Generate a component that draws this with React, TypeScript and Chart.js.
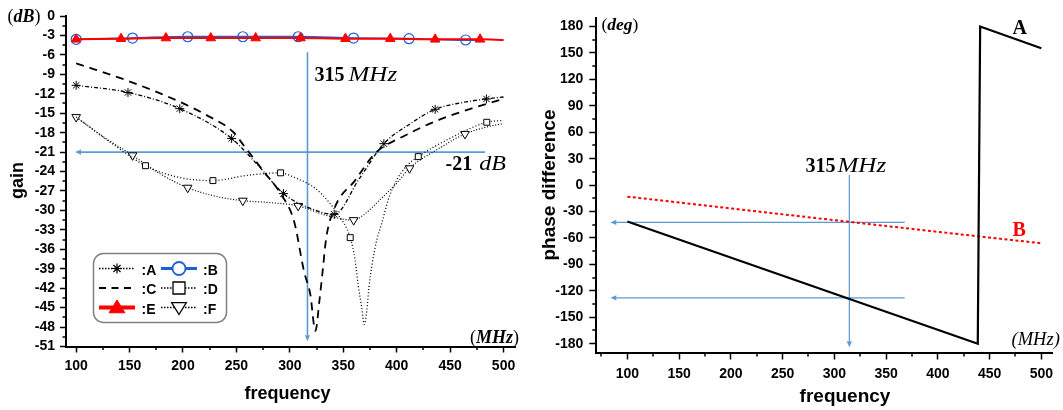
import React, { useEffect, useRef } from 'react';
import { Chart, registerables } from 'chart.js';

Chart.register(...registerables);

// ---------------- Left panel: gain (dB) vs frequency (MHz) ----------------
const GAIN_X_TICKS = [100, 150, 200, 250, 300, 350, 400, 450, 500];
const GAIN_X_MINOR = [125, 175, 225, 275, 325, 375, 425, 475];
const GAIN_Y_TICKS = [0, -3, -6, -9, -12, -15, -18, -21, -24, -27, -30, -33, -36, -39, -42, -45, -48, -51];
const GAIN_Y_MINOR = [-1.5, -4.5, -7.5, -10.5, -13.5, -16.5, -19.5, -22.5, -25.5, -28.5, -31.5, -34.5, -37.5, -40.5, -43.5, -46.5, -49.5];

const A_FREQ = [100, 148.5, 197, 245.5, 270, 294, 318, 341.5, 365, 388, 412, 436, 460, 484, 500];
const A_GAIN = [-10.7, -11.8, -14.3, -18.9, -23.0, -27.4, -29.6, -30.6, -25.1, -19.7, -16.7, -14.4, -13.4, -12.8, -12.5];
const A_MARKS = [100, 148.5, 197, 245.5, 294, 341.5, 388, 436, 484];

const B_FREQ = [100, 152.8, 204.4, 256, 307.8, 359.6, 411.5, 464.6, 480];
const B_GAIN = [-3.6, -3.4, -3.2, -3.2, -3.2, -3.4, -3.5, -3.7, -3.7];
const B_MARKS = [100, 152.8, 204.4, 256, 307.8, 359.6, 411.5, 464.6];

const C_FREQ = [100, 148.4, 196.4, 222, 247, 256.5, 275.5, 291.3, 304, 313.4, 319.1, 323.9, 327.7, 330.8, 334, 341.9, 360.9, 379.8, 408.3, 440, 471.5, 500];
const C_GAIN = [-7.3, -10.0, -13.2, -15.3, -17.9, -19.9, -24.0, -27.4, -31.7, -39.5, -42.9, -48.6, -43.9, -39.2, -34.3, -29.6, -25.4, -21.2, -18.4, -16.0, -14.2, -12.8];

const D_FREQ = [100, 133, 164.9, 196, 228, 260, 291.3, 304, 323, 337, 345, 356.5, 361, 364, 367.2, 369.7, 372, 374.1, 376.7, 381.3, 386, 392, 400, 409, 420.2, 452, 484.3, 500];
const D_GAIN = [-15.6, -19.6, -23.1, -24.9, -25.4, -24.6, -24.2, -24.9, -26.5, -28.8, -30.6, -34.2, -37.6, -41.6, -44.9, -47.6, -45.5, -41.8, -38.6, -34.6, -32.0, -28.4, -25.3, -23.2, -21.7, -18.7, -16.4, -16.1];
const D_MARKS = [164.9, 228, 291.3, 356.5, 420.2, 484.3];

const E_FREQ = [100, 142, 184, 226, 268, 310, 352, 394, 436, 478, 500];
const E_GAIN = [-3.6, -3.5, -3.4, -3.4, -3.4, -3.4, -3.5, -3.5, -3.6, -3.6, -3.7];
const E_MARKS = [100, 142, 184, 226, 268, 310, 352, 394, 436, 478];

const F_FREQ = [100, 126, 152.8, 178, 204.4, 230, 256, 282, 307.8, 335, 359.7, 369, 384, 400, 412, 438, 463.9, 485, 500];
const F_GAIN = [-15.6, -18.7, -21.5, -24.3, -26.5, -27.8, -28.5, -28.8, -29.3, -30.8, -31.5, -30.7, -28.4, -25.8, -23.5, -20.6, -18.2, -17.1, -16.6];
const F_MARKS = [100, 152.8, 204.4, 256, 307.8, 359.7, 412, 463.9];

const GAIN_MARK_FREQ = 316.5;
const GAIN_MARK_TOP = -5.6;
const GAIN_MARK_BOTTOM = -50.2;
const GAIN_LEVEL = -21;
const GAIN_LEVEL_FROM = 482.6;
const GAIN_LEVEL_TO = 99;

// ---------------- Right panel: phase difference (deg) vs frequency ----------------
const PHASE_X_TICKS = [100, 150, 200, 250, 300, 350, 400, 450, 500];
const PHASE_X_MINOR = [75, 125, 175, 225, 275, 325, 375, 425, 475];
const PHASE_Y_TICKS = [180, 150, 120, 90, 60, 30, 0, -30, -60, -90, -120, -150, -180];
const PHASE_Y_MINOR = [165, 135, 105, 75, 45, 15, -15, -45, -75, -105, -135, -165];

const PA_FREQ = [100, 438.6, 440.9, 500];
const PA_PHASE = [-41.3, -180, 180, 155.3];
const PB_FREQ = [100, 315, 440, 500];
const PB_PHASE = [-13.1, -41.8, -58.3, -66];

const PHASE_MARK_FREQ = 314.5;
const PHASE_MARK_TOP = 11.6;
const PHASE_MARK_BOTTOM = -184;
const PHASE_LEVELS = [-42.4, -128];
const PHASE_LEVEL_FROM = 368;
const PHASE_LEVEL_TO = 83.6;

// ---------------- helpers ----------------
const SERIF = '"Liberation Serif", "Times New Roman", serif';
const SANS = '"Liberation Sans", Arial, sans-serif';
const BLUE = '#5b9bd5';
const SERIES_BLUE = '#1f5fd6';

function pickNarrow(): { family: string; k: number } {
  try {
    const c = document.createElement('canvas').getContext('2d') as CanvasRenderingContext2D;
    const probe = 'mmmmwwww0123456789';
    c.font = '40px monospace';
    const base = c.measureText(probe).width;
    for (const f of ['Liberation Sans Narrow', 'Arial Narrow']) {
      c.font = `40px "${f}", monospace`;
      if (Math.abs(c.measureText(probe).width - base) > 0.5) return { family: `"${f}"`, k: 1 };
    }
  } catch (e) {}
  return { family: SANS, k: 0.875 };
}

const pts = (xs: number[], ys: number[]) => xs.map((x, i) => ({ x, y: ys[i] }));
const markR = (marks: number[], r: number) => (c: any) => (c.raw && marks.includes(c.raw.x) ? r : 0);

type Run = { t: string; font: string; color?: string; sx?: number; dx?: number };
function runs(ctx: CanvasRenderingContext2D, x: number, y: number, list: Run[]) {
  let cx = x;
  ctx.textAlign = 'left';
  ctx.textBaseline = 'alphabetic';
  for (const r of list) {
    cx += r.dx || 0;
    ctx.font = r.font;
    ctx.fillStyle = r.color || '#000';
    const sx = r.sx || 1;
    ctx.save();
    ctx.translate(cx, y);
    ctx.scale(sx, 1);
    ctx.fillText(r.t, 0, 0);
    ctx.restore();
    cx += ctx.measureText(r.t).width * sx;
  }
}

function arrow(ctx: CanvasRenderingContext2D, x1: number, y1: number, x2: number, y2: number, color: string, lw: number) {
  const head = 6, half = 2.6;
  const ang = Math.atan2(y2 - y1, x2 - x1);
  const bx = x2 - Math.cos(ang) * head, by = y2 - Math.sin(ang) * head;
  ctx.save();
  ctx.strokeStyle = color; ctx.fillStyle = color; ctx.lineWidth = lw;
  ctx.beginPath(); ctx.moveTo(x1, y1); ctx.lineTo(bx, by); ctx.stroke();
  ctx.beginPath(); ctx.moveTo(x2, y2);
  ctx.lineTo(bx + Math.sin(ang) * half, by - Math.cos(ang) * half);
  ctx.lineTo(bx - Math.sin(ang) * half, by + Math.cos(ang) * half);
  ctx.closePath(); ctx.fill();
  ctx.restore();
}

function minorTicks(chart: any, xs: number[], ys: number[], len: number) {
  const { ctx, chartArea: ca, scales } = chart;
  ctx.save();
  ctx.strokeStyle = '#000'; ctx.lineWidth = 1.5;
  ctx.beginPath();
  for (const v of xs) {
    const px = Math.round(scales.x.getPixelForValue(v));
    ctx.moveTo(px, ca.bottom); ctx.lineTo(px, ca.bottom + len);
  }
  for (const v of ys) {
    const py = Math.round(scales.y.getPixelForValue(v));
    ctx.moveTo(ca.left, py); ctx.lineTo(ca.left - len, py);
  }
  ctx.stroke();
  ctx.restore();
}

function rotTitle(ctx: CanvasRenderingContext2D, text: string, x: number, y: number, font: string) {
  ctx.save();
  ctx.translate(x, y); ctx.rotate(-Math.PI / 2);
  ctx.font = font; ctx.fillStyle = '#000'; ctx.textAlign = 'center'; ctx.textBaseline = 'alphabetic';
  ctx.fillText(text, 0, 0);
  ctx.restore();
}

function centerText(ctx: CanvasRenderingContext2D, text: string, x: number, y: number, font: string) {
  ctx.save();
  ctx.font = font; ctx.fillStyle = '#000'; ctx.textAlign = 'center'; ctx.textBaseline = 'alphabetic';
  ctx.fillText(text, x, y);
  ctx.restore();
}

function marker(ctx: CanvasRenderingContext2D, kind: string, x: number, y: number, r: number, stroke: string, fill: string | null, lw: number) {
  ctx.save();
  ctx.strokeStyle = stroke; ctx.lineWidth = lw; ctx.setLineDash([]);
  ctx.beginPath();
  if (kind === 'star') {
    for (let i = 0; i < 4; i++) {
      const a = (i * Math.PI) / 4;
      ctx.moveTo(x - Math.cos(a) * r, y - Math.sin(a) * r);
      ctx.lineTo(x + Math.cos(a) * r, y + Math.sin(a) * r);
    }
    ctx.stroke();
  } else {
    if (kind === 'circle') ctx.arc(x, y, r, 0, Math.PI * 2);
    else if (kind === 'square') ctx.rect(x - r, y - r, 2 * r, 2 * r);
    else if (kind === 'triUp') { ctx.moveTo(x, y - r); ctx.lineTo(x + r * 1.05, y + r * 0.7); ctx.lineTo(x - r * 1.05, y + r * 0.7); ctx.closePath(); }
    else if (kind === 'triDown') { ctx.moveTo(x, y + r); ctx.lineTo(x + r * 1.05, y - r * 0.7); ctx.lineTo(x - r * 1.05, y - r * 0.7); ctx.closePath(); }
    if (fill) { ctx.fillStyle = fill; ctx.fill(); }
    ctx.stroke();
  }
  ctx.restore();
}

function sample(ctx: CanvasRenderingContext2D, x1: number, x2: number, y: number, color: string, lw: number, dash: number[]) {
  ctx.save();
  ctx.strokeStyle = color; ctx.lineWidth = lw; ctx.setLineDash(dash);
  ctx.beginPath(); ctx.moveTo(x1, y); ctx.lineTo(x2, y); ctx.stroke();
  ctx.restore();
}

function axisX(min: number, max: number, ticks: number[], height: number, font: any, tickLen: number, pad: number) {
  return {
    type: 'linear', min, max,
    afterBuildTicks: (s: any) => { s.ticks = ticks.map((v) => ({ value: v })); },
    afterFit: (s: any) => { s.height = height; },
    ticks: { autoSkip: false, maxRotation: 0, minRotation: 0, color: '#000', font, padding: pad, callback: (v: any) => String(v) },
    grid: { display: true, drawOnChartArea: false, drawTicks: true, tickLength: tickLen, tickColor: '#000', tickWidth: 1.5 },
    border: { display: true, color: '#000', width: 2 },
  };
}
function axisY(min: number, max: number, ticks: number[], width: number, font: any, tickLen: number, pad: number) {
  return {
    type: 'linear', min, max,
    afterBuildTicks: (s: any) => { s.ticks = ticks.map((v) => ({ value: v })); },
    afterFit: (s: any) => { s.width = width; },
    ticks: { autoSkip: false, color: '#000', font, padding: pad, callback: (v: any) => String(v) },
    grid: { display: true, drawOnChartArea: false, drawTicks: true, tickLength: tickLen, tickColor: '#000', tickWidth: 1.5 },
    border: { display: true, color: '#000', width: 2 },
  };
}

const LINE_A = { color: '#000', width: 1.3, dash: [4, 2, 1, 2] };
const LINE_C = { color: '#000', width: 1.8, dash: [8, 6] };
const LINE_D = { color: '#000', width: 1.3, dash: [1, 2.2] };
const LINE_F = { color: '#000', width: 1.2, dash: [1, 1.8] };

function buildLeft(nf: { family: string; k: number }) {
  const tickFont = { family: nf.family, size: Math.round(16 * nf.k), weight: 'bold' };
  const legendFont = `bold ${Math.round(16 * nf.k)}px ${nf.family}`;
  const common = { cubicInterpolationMode: 'monotone', tension: 0.4, fill: false };
  const decor = {
    id: 'gainDecor',
    beforeDatasetsDraw(chart: any) {
      const { ctx, scales: { x, y } } = chart;
      arrow(ctx, x.getPixelForValue(GAIN_MARK_FREQ), y.getPixelForValue(GAIN_MARK_TOP), x.getPixelForValue(GAIN_MARK_FREQ), y.getPixelForValue(GAIN_MARK_BOTTOM), BLUE, 1.6);
      arrow(ctx, x.getPixelForValue(GAIN_LEVEL_FROM), y.getPixelForValue(GAIN_LEVEL), x.getPixelForValue(GAIN_LEVEL_TO), y.getPixelForValue(GAIN_LEVEL), BLUE, 1.6);
    },
    afterDraw(chart: any) {
      const { ctx } = chart;
      minorTicks(chart, GAIN_X_MINOR, GAIN_Y_MINOR, 3.5);
      runs(ctx, 7.5, 21.5, [
        { t: '(', font: `18px ${SERIF}` },
        { t: 'dB', font: `italic bold 18px ${SERIF}` },
        { t: ')', font: `18px ${SERIF}` },
      ]);
      runs(ctx, 470, 342.5, [
        { t: '(', font: `18px ${SERIF}` },
        { t: 'MHz', font: `italic bold 18px ${SERIF}` },
        { t: ')', font: `18px ${SERIF}` },
      ]);
      runs(ctx, 314.5, 81, [
        { t: '315', font: `bold 20px ${SERIF}` },
        { t: 'MHz', font: `italic 20px ${SERIF}`, sx: 1.25, dx: 4 },
      ]);
      runs(ctx, 445.5, 170, [
        { t: '-21', font: `bold 20px ${SERIF}` },
        { t: 'dB', font: `italic 20px ${SERIF}`, sx: 1.2, dx: 7 },
      ]);
      rotTitle(ctx, 'gain', 23, 180.5, `bold 18px ${SANS}`);
      centerText(ctx, 'frequency', 287.5, 398.5, `bold 18px ${SANS}`);
      // legend box
      ctx.save();
      ctx.strokeStyle = '#808080'; ctx.lineWidth = 1.5; ctx.fillStyle = '#fff';
      ctx.beginPath();
      (ctx as any).roundRect(93.5, 253.5, 133, 69, 10);
      ctx.fill(); ctx.stroke();
      ctx.restore();
      const r1 = 268.5, r2 = 288, r3 = 307.5;
      const c1a = 99, c1b = 135, c1m = 117, c1t = 141.5;
      const c2a = 161, c2b = 197, c2m = 179, c2t = 203;
      sample(ctx, c1a, c1b, r1, LINE_A.color, 1.3, [1.5, 1.5]);
      marker(ctx, 'star', c1m, r1, 5, '#000', null, 1.2);
      sample(ctx, c2a, c2b, r1, SERIES_BLUE, 3, []);
      marker(ctx, 'circle', c2m, r1, 6.5, SERIES_BLUE, '#fff', 1.8);
      sample(ctx, c1a, c1b, r2, '#000', 1.8, [7, 5.5]);
      sample(ctx, c2a, c2b, r2, '#000', 1.3, [1.5, 1.5]);
      marker(ctx, 'square', c2m, r2, 6, '#000', '#fff', 1.3);
      sample(ctx, c1a, c1b, r3, '#ff0000', 4, []);
      marker(ctx, 'triUp', c1m, r3, 7.5, '#ff0000', '#ff0000', 1);
      sample(ctx, c2a, c2b, r3, '#000', 1.3, [1.5, 1.5]);
      marker(ctx, 'triDown', c2m, r3, 7, '#000', '#fff', 1.3);
      const lab = [[':A', c1t, r1], [':B', c2t, r1], [':C', c1t, r2], [':D', c2t, r2], [':E', c1t, r3], [':F', c2t, r3]];
      for (const [t, lx, ly] of lab as any) runs(ctx, lx, ly + 6, [{ t, font: legendFont }]);
    },
  };
  return {
    type: 'line',
    data: {
      datasets: [
        { ...common, label: 'E', data: pts(E_FREQ, E_GAIN), borderColor: '#ff0000', borderWidth: 2, pointStyle: 'triangle', pointRadius: markR(E_MARKS, 5.5), pointBackgroundColor: '#ff0000', pointBorderColor: '#ff0000', pointBorderWidth: 1 },
        { ...common, label: 'B', data: pts(B_FREQ, B_GAIN), borderColor: SERIES_BLUE, borderWidth: 1.8, pointStyle: 'circle', pointRadius: markR(B_MARKS, 5), pointBackgroundColor: 'rgba(255,255,255,0)', pointBorderColor: SERIES_BLUE, pointBorderWidth: 1.2 },
        { ...common, label: 'A', data: pts(A_FREQ, A_GAIN), borderColor: LINE_A.color, borderWidth: LINE_A.width, borderDash: LINE_A.dash, pointStyle: 'star', pointRadius: markR(A_MARKS, 4.5), pointBorderColor: '#000', pointBackgroundColor: '#000', pointBorderWidth: 1 },
        { ...common, label: 'C', data: pts(C_FREQ, C_GAIN), borderColor: LINE_C.color, borderWidth: LINE_C.width, borderDash: LINE_C.dash, pointRadius: 0 },
        { ...common, label: 'D', data: pts(D_FREQ, D_GAIN), borderColor: LINE_D.color, borderWidth: LINE_D.width, borderDash: LINE_D.dash, pointStyle: 'rect', pointRadius: markR(D_MARKS, 4.2), pointBackgroundColor: '#fff', pointBorderColor: '#000', pointBorderWidth: 1 },
        { ...common, label: 'F', data: pts(F_FREQ, F_GAIN), borderColor: LINE_F.color, borderWidth: LINE_F.width, borderDash: LINE_F.dash, pointStyle: 'triangle', pointRotation: 180, pointRadius: markR(F_MARKS, 5), pointBackgroundColor: '#fff', pointBorderColor: '#000', pointBorderWidth: 1 },
      ],
    },
    options: {
      responsive: false, maintainAspectRatio: false, animation: false, events: [],
      layout: { padding: { left: 0, right: 14.7, top: 16, bottom: 0 } },
      scales: {
        x: axisX(90.5, 511, GAIN_X_TICKS, 63.5, tickFont, 6, 5),
        y: axisY(-51, 0, GAIN_Y_TICKS, 66, tickFont, 6, 5),
      },
      plugins: { legend: { display: false }, tooltip: { enabled: false }, title: { display: false } },
    },
    plugins: [decor],
  };
}

function buildRight(nf: { family: string; k: number }) {
  const xFont = { family: nf.family, size: Math.round(16 * nf.k), weight: 'bold' };
  const yFont = { family: nf.family, size: Math.round(16 * nf.k), weight: 'bold' };
  const decor = {
    id: 'phaseDecor',
    beforeDatasetsDraw(chart: any) {
      const { ctx, scales: { x, y } } = chart;
      arrow(ctx, x.getPixelForValue(PHASE_MARK_FREQ), y.getPixelForValue(PHASE_MARK_TOP), x.getPixelForValue(PHASE_MARK_FREQ), y.getPixelForValue(PHASE_MARK_BOTTOM), BLUE, 1.2);
      for (const lv of PHASE_LEVELS) {
        arrow(ctx, x.getPixelForValue(PHASE_LEVEL_FROM), y.getPixelForValue(lv), x.getPixelForValue(PHASE_LEVEL_TO), y.getPixelForValue(lv), BLUE, 1.2);
      }
    },
    afterDraw(chart: any) {
      const { ctx } = chart;
      minorTicks(chart, PHASE_X_MINOR, PHASE_Y_MINOR, 4);
      runs(ctx, 71.5, 30, [
        { t: '(', font: `17.5px ${SERIF}` },
        { t: 'deg', font: `italic bold 17.5px ${SERIF}` },
        { t: ')', font: `17.5px ${SERIF}` },
      ]);
      runs(ctx, 481.5, 345, [{ t: '(MHz)', font: `italic 18.5px ${SERIF}` }]);
      runs(ctx, 275.5, 171.5, [
        { t: '315', font: `bold 20px ${SERIF}` },
        { t: 'MHz', font: `italic 20px ${SERIF}`, sx: 1.25, dx: 2 },
      ]);
      runs(ctx, 482.5, 34, [{ t: 'A', font: `bold 20px ${SERIF}` }]);
      runs(ctx, 482.5, 235.5, [{ t: 'B', font: `bold 20px ${SERIF}`, color: '#ff0000' }]);
      rotTitle(ctx, 'phase difference', 25, 185, `bold 19px ${SANS}`);
      centerText(ctx, 'frequency', 315, 402, `bold 19px ${SANS}`);
    },
  };
  return {
    type: 'line',
    data: {
      datasets: [
        { label: 'A', data: pts(PA_FREQ, PA_PHASE), borderColor: '#000', borderWidth: 2.2, pointRadius: 0, tension: 0, fill: false },
        { label: 'B', data: pts(PB_FREQ, PB_PHASE), borderColor: '#ff0000', borderWidth: 2, borderDash: [3, 2.5], pointRadius: 0, tension: 0, fill: false },
      ],
    },
    options: {
      responsive: false, maintainAspectRatio: false, animation: false, events: [],
      layout: { padding: { left: 0, right: 10.3, top: 17.7, bottom: 0 } },
      scales: {
        x: axisX(70, 511, PHASE_X_TICKS, 57.5, xFont, 7, 6),
        y: axisY(-190, 190, PHASE_Y_TICKS, 66.3, yFont, 7, 6),
      },
      plugins: { legend: { display: false }, tooltip: { enabled: false }, title: { display: false } },
    },
    plugins: [decor],
  };
}

export default function App() {
  const leftRef = useRef<HTMLCanvasElement>(null);
  const rightRef = useRef<HTMLCanvasElement>(null);
  useEffect(() => {
    const nf = pickNarrow();
    const left = new Chart(leftRef.current as HTMLCanvasElement, buildLeft(nf) as any);
    const right = new Chart(rightRef.current as HTMLCanvasElement, buildRight(nf) as any);
    return () => { left.destroy(); right.destroy(); };
  }, []);
  return (
    <div style={{ position: 'fixed', left: 0, top: 0, width: 1063, height: 410, background: '#fff' }}>
      <canvas ref={leftRef} width={530} height={410} style={{ position: 'absolute', left: 0, top: 0, width: 530, height: 410 }} />
      <canvas ref={rightRef} width={533} height={410} style={{ position: 'absolute', left: 530, top: 0, width: 533, height: 410 }} />
    </div>
  );
}
